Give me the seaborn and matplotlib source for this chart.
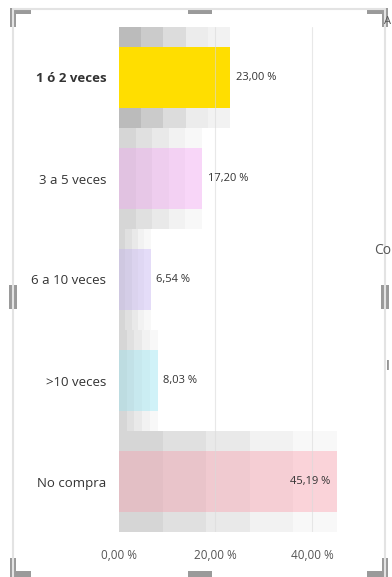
import matplotlib
matplotlib.use("Agg")
import matplotlib.pyplot as plt
import seaborn as sns
import numpy as np
import pandas as pd
from matplotlib.patches import Polygon, Rectangle
from matplotlib.lines import Line2D

categories = ["1 ó 2 veces", "3 a 5 veces", "6 a 10 veces", ">10 veces", "No compra"]
values = [23.00, 17.20, 6.54, 8.03, 45.19]
value_labels = ["23,00 %", "17,20 %", "6,54 %", "8,03 %", "45,19 %"]
bar_colors = ["#FFDE00", "#F8D6F8", "#E4DCF8", "#D0F2F8", "#FAD3D9"]
x_ticks = [0, 20, 40]
x_tick_labels = ["0,00 %", "20,00 %", "40,00 %"]

sns.set_theme(style="white")
plt.rcParams["font.family"] = ["Open Sans", "DejaVu Sans"]

W, H = 392, 577
fig = plt.figure(figsize=(W / 100, H / 100), dpi=100)
fig.patch.set_facecolor("white")

def fx(px):
    return px / W

def fy(py):
    return 1 - py / H

ax = fig.add_axes([fx(119), fy(532), fx(337) - fx(119), fy(27) - fy(532)])
df = pd.DataFrame({"cat": categories, "val": values})

# gray gradient bands behind each bar (5 equal segments, darkest on the left)
band_dark = ["#BBBBBB", "#CBCBCB", "#DCDCDC", "#ECECEC", "#F2F2F2"]
band_light = ["#D6D6D6", "#E0E0E0", "#E9E9E9", "#F2F2F2", "#F8F8F8"]
for k in range(5):
    frac = (5 - k) / 5
    seg_colors = [band_dark[4 - k]] + [band_light[4 - k]] * 4
    sns.barplot(data=df.assign(w=df["val"] * frac), x="w", y="cat", hue="cat",
                palette=seg_colors, width=1.0, orient="h", ax=ax, legend=False,
                saturation=1, linewidth=0, zorder=1)

# coloured bars
sns.barplot(data=df, x="val", y="cat", hue="cat", palette=bar_colors, width=0.6,
            orient="h", ax=ax, legend=False, saturation=1, linewidth=0, zorder=2)

# darkening gradient over the non-yellow bars
shade = [0.09, 0.065, 0.04, 0.02]
for k, a in enumerate(shade):
    for i, v in enumerate(values):
        if i == 0:
            continue
        ax.barh(i, v / 5, left=v * k / 5, height=0.6, color="black", alpha=a,
                linewidth=0, zorder=3)

ax.set_xlim(0, max(values))
ax.set_ylim(len(categories) - 0.5, -0.5)

for xv in x_ticks[1:]:
    ax.axvline(xv, color="#DADADA", lw=0.8, alpha=0.6, zorder=4)

for i, (v, lab) in enumerate(zip(values, value_labels)):
    if v > 40:
        ax.annotate(lab, (v, i), xytext=(-5, 0), textcoords="offset points",
                    ha="right", va="center", fontsize=8, color="#333333", zorder=5)
    else:
        ax.annotate(lab, (v, i), xytext=(4, 0), textcoords="offset points",
                    ha="left", va="center", fontsize=8, color="#333333", zorder=5)

ax.set_xticks(x_ticks)
ax.set_xticklabels(x_tick_labels, fontsize=8.5, color="#555555")
ax.set_yticks(range(len(categories)))
ax.set_yticklabels(categories, fontsize=9.5, color="#333333")
ax.get_yticklabels()[0].set_fontweight("bold")
ax.tick_params(axis="y", length=0, pad=9)
ax.tick_params(axis="x", length=0, pad=12)
ax.set_xlabel("")
ax.set_ylabel("")
for s in ax.spines.values():
    s.set_visible(False)

# visual frame (Power BI selection border)
frame_c = "#E3E3E3"
for (x0, y0, x1, y1) in [(13, 9, 385, 9), (13, 9, 13, 577), (385, 9, 385, 577)]:
    fig.add_artist(Line2D([fx(x0), fx(x1)], [fy(y0), fy(y1)], color=frame_c, lw=1.5))

hc = "#9A9A9A"
def corner(x, y, sx, sy):
    pts = [(x, y), (x + sx * 21, y), (x + sx * 21, y + sy * 6), (x + sx * 6, y + sy * 6),
           (x + sx * 6, y + sy * 19), (x, y + sy * 19)]
    fig.add_artist(Polygon([(fx(a), fy(b)) for a, b in pts], closed=True,
                           transform=fig.transFigure, color=hc, lw=0))

corner(10, 8, 1, 1)
corner(388, 8, -1, 1)
corner(10, 577, 1, -1)
corner(388, 577, -1, -1)
for (x, y, w, h) in [(188, 8, 24, 6), (188, 571, 24, 6), (9, 285, 8, 24), (381, 285, 8, 24)]:
    fig.add_artist(Rectangle((fx(x), fy(y + h)), w / W, h / H, transform=fig.transFigure,
                             color=hc, lw=0))

# neighbouring text at the right edge
fig.text(fx(374), fy(250), "Co", fontsize=10, color="#555555", va="center")
fig.text(fx(386), fy(366), "I", fontsize=10, color="#555555", va="center")
fig.text(fx(384), fy(22), "A", fontsize=8, color="#555555", va="center")

fig.savefig("out.png", dpi=100)
